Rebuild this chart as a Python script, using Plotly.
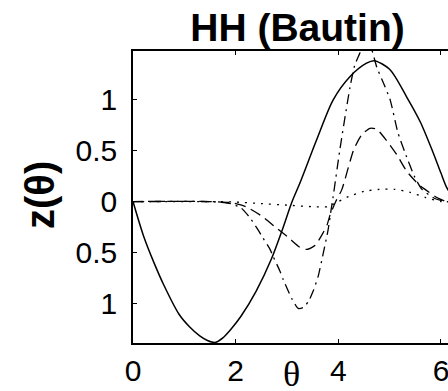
import plotly.graph_objects as go

# ---- data ----
th_solid = [0, 0.2, 0.4, 0.6, 0.9, 1.1, 1.3, 1.45, 1.6, 1.75, 1.9, 2.1, 2.4, 2.7, 2.9, 3.1,
            3.25, 3.58, 3.9, 4.23, 4.55, 4.7, 5.0, 5.33, 5.6, 5.84, 6.0, 6.11, 6.25]
z_solid = [0, -0.33, -0.59, -0.82, -1.11, -1.23, -1.32, -1.365, -1.385, -1.34, -1.26, -1.13,
           -0.88, -0.56, -0.29, 0, 0.18, 0.61, 1.0, 1.23, 1.36, 1.385, 1.30, 1.03, 0.78, 0.49,
           0.28, 0.14, 0.03]

th_dot = [0, 1.5, 2.0, 2.5, 3.0, 3.5, 3.8, 4.0, 4.2, 4.5, 4.8, 5.1, 5.4, 5.7, 6.0, 6.25]
z_dot = [0, 0, -0.005, -0.02, -0.035, -0.05, -0.05, 0.0, 0.05, 0.10, 0.12, 0.12, 0.09, 0.04, 0.0, 0]

th_dash = [0, 1.5, 1.9, 2.08, 2.24, 2.53, 2.77, 3.02, 3.25, 3.39, 3.55, 3.70, 3.78, 3.84,
           3.95, 4.07, 4.30, 4.46, 4.62, 4.75, 4.94, 5.14, 5.33, 5.56, 5.69, 5.92, 6.11, 6.25]
z_dash = [0, 0, -0.01, -0.03, -0.06, -0.15, -0.25, -0.35, -0.45, -0.47, -0.43, -0.31, -0.23,
          -0.13, 0.0, 0.12, 0.51, 0.66, 0.72, 0.71, 0.60, 0.46, 0.30, 0.17, 0.12, 0.04, 0.0, 0]

th_dd = [0, 1.5, 1.9, 2.1, 2.28, 2.44, 2.51, 2.67, 2.73, 2.86, 2.93, 3.09, 3.22, 3.32, 3.42,
         3.51, 3.61, 3.71, 3.80, 3.86, 3.90, 4.03, 4.23, 4.32, 4.42, 4.5, 4.58, 4.66, 4.75,
         4.85, 5.01, 5.16, 5.30, 5.49, 5.63, 5.88, 6.12, 6.25]
z_dd = [0, 0, -0.02, -0.06, -0.16, -0.28, -0.34, -0.47, -0.54, -0.68, -0.77, -0.95, -1.05,
        -1.04, -0.98, -0.88, -0.73, -0.50, -0.28, -0.08, 0.05, 0.51, 1.13, 1.34, 1.46, 1.58,
        1.58, 1.48, 1.32, 1.20, 1.00, 0.68, 0.48, 0.24, 0.12, 0.03, 0, 0]

x_ticks = [0, 2, 4, 6]
x_ticktext = ["0", "2", "4", "6"]
y_ticks = [-1, -0.5, 0, 0.5, 1]
y_ticktext = ["1", "0.5", "0", "0.5", "1"]

title_text = "HH (Bautin)"
x_label = "θ"
y_label = "z(θ)"

W, H = 448, 391
PL, PT, PB = 133, 51, 343          # plot area left/top/bottom in px
PW, PH = W - PL, PB - PT

fig = go.Figure()
fig.add_trace(go.Scatter(x=th_solid, y=z_solid, mode="lines",
                         line=dict(width=1.5, color="black", shape="spline", smoothing=0.8),
                         showlegend=False))
fig.add_trace(go.Scatter(x=th_dot, y=z_dot, mode="lines",
                         line=dict(width=1.3, color="black", shape="spline", smoothing=0.6,
                                   dash="2px,6px"), showlegend=False))
fig.add_trace(go.Scatter(x=th_dash, y=z_dash, mode="lines",
                         line=dict(width=1.3, color="black", shape="spline", smoothing=0.6,
                                   dash="11px,6px"), showlegend=False))
fig.add_trace(go.Scatter(x=th_dd, y=z_dd, mode="lines",
                         line=dict(width=1.3, color="black", shape="spline", smoothing=0.6,
                                   dash="10px,5px,2px,5px"), showlegend=False))
# invisible trace on the top axis for the mirrored frame/ticks
fig.add_trace(go.Scatter(x=[0], y=[0], xaxis="x2", mode="markers",
                         marker=dict(opacity=0), showlegend=False, hoverinfo="skip"))

tick_font = dict(family="Liberation Sans, Arial, sans-serif", size=30, color="black")

fig.update_layout(
    width=W, height=H,
    margin=dict(l=PL, r=0, t=PT, b=H - PB, pad=0),
    paper_bgcolor="white", plot_bgcolor="white",
    title=dict(text=title_text, x=(297.5 - PL) / PW, xref="paper", xanchor="center",
               y=1 - 27 / H, yref="container", yanchor="middle",
               font=dict(family="Liberation Sans, Arial, sans-serif", size=39,
                         color="black", weight="bold")),
    xaxis=dict(range=[0, 6.137], tickvals=x_ticks, ticktext=x_ticktext,
               ticks="inside", ticklen=4, tickwidth=1, tickcolor="black",
               showline=True, linecolor="black", linewidth=1.5,
               showgrid=False, zeroline=False, tickfont=tick_font,
               ticklabelstandoff=0, ticklabeloverflow="allow"),
    xaxis2=dict(range=[0, 6.137], overlaying="x", side="top", tickvals=x_ticks,
                ticks="inside", ticklen=4, tickwidth=1, tickcolor="black",
                showline=True, linecolor="black", linewidth=1.5,
                showticklabels=False, showgrid=False, zeroline=False),
    yaxis=dict(range=[-1.39, 1.48], tickvals=y_ticks, ticktext=y_ticktext,
               ticks="inside", ticklen=4, tickwidth=1, tickcolor="black",
               showline=True, linecolor="black", linewidth=1.5,
               showgrid=False, zeroline=False, tickfont=tick_font,
               ticklabelstandoff=8, ticklabeloverflow="allow"),
    annotations=[
        dict(text="<b>" + y_label + "</b>", xref="paper", yref="paper",
             x=(40 - PL) / PW, y=(PB - 195) / PH, xanchor="center", yanchor="middle",
             textangle=-90, showarrow=False,
             font=dict(family="Liberation Sans, Arial, sans-serif", size=40, color="black")),
        dict(text=x_label, xref="paper", yref="paper",
             x=(291.5 - PL) / PW, y=(PB - 374) / PH, xanchor="center", yanchor="middle",
             showarrow=False,
             font=dict(family="Liberation Serif, Times New Roman, serif", size=36, color="black")),
    ],
)

post = ("document.body.style.margin='0';"
        "document.body.style.overflow='hidden';"
        "document.documentElement.style.overflow='hidden';")
fig.write_html("out.html", post_script=post, config={"displayModeBar": False})
